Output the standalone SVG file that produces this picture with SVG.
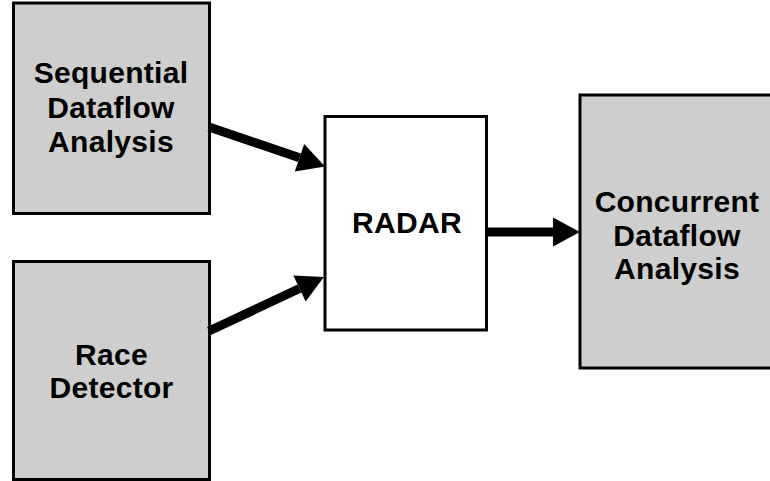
<svg xmlns="http://www.w3.org/2000/svg" width="770" height="481" viewBox="0 0 770 481">
<style>
.box{fill:#cecece;stroke:#000;stroke-width:3}
.wbox{fill:#fff;stroke:#000;stroke-width:3}
.t{font-family:"Liberation Sans",Arial,sans-serif;font-weight:bold;font-size:30px;letter-spacing:0.3px;fill:#000;text-anchor:middle}
.conn{stroke:#000;stroke-width:9;fill:none}
</style>
<defs>
<marker id="ah" markerUnits="userSpaceOnUse" markerWidth="28" markerHeight="30" refX="0" refY="14.5" orient="auto" overflow="visible">
<path d="M0,0 L27,14.5 L0,29 z" fill="#000"/>
</marker>
</defs>
<rect width="770" height="481" fill="#fff"/>
<g id="seq">
<rect class="box" x="13.5" y="3" width="196" height="210.5"/>
<text class="t" x="111" y="83">Sequential</text>
<text class="t" x="111" y="118">Dataflow</text>
<text class="t" x="111" y="152">Analysis</text>
</g>
<g id="race">
<rect class="box" x="13.5" y="261.5" width="196" height="218"/>
<text class="t" x="111.5" y="365">Race</text>
<text class="t" x="111.5" y="398">Detector</text>
</g>
<g id="radar">
<rect class="wbox" x="325" y="116.5" width="161.5" height="213.5"/>
<text class="t" x="407" y="233">RADAR</text>
</g>
<g id="concurrent">
<rect class="box" x="580" y="95" width="192" height="273"/>
<text class="t" x="677" y="212">Concurrent</text>
<text class="t" x="677" y="246">Dataflow</text>
<text class="t" x="677" y="279">Analysis</text>
</g>
<g id="connectors">
<line class="conn" x1="209" y1="127" x2="299.5" y2="157.8" marker-end="url(#ah)"/>
<line class="conn" x1="209" y1="331" x2="299.5" y2="288.5" marker-end="url(#ah)"/>
<line class="conn" x1="487" y1="232" x2="553" y2="232" marker-end="url(#ah)"/>
</g>
</svg>
